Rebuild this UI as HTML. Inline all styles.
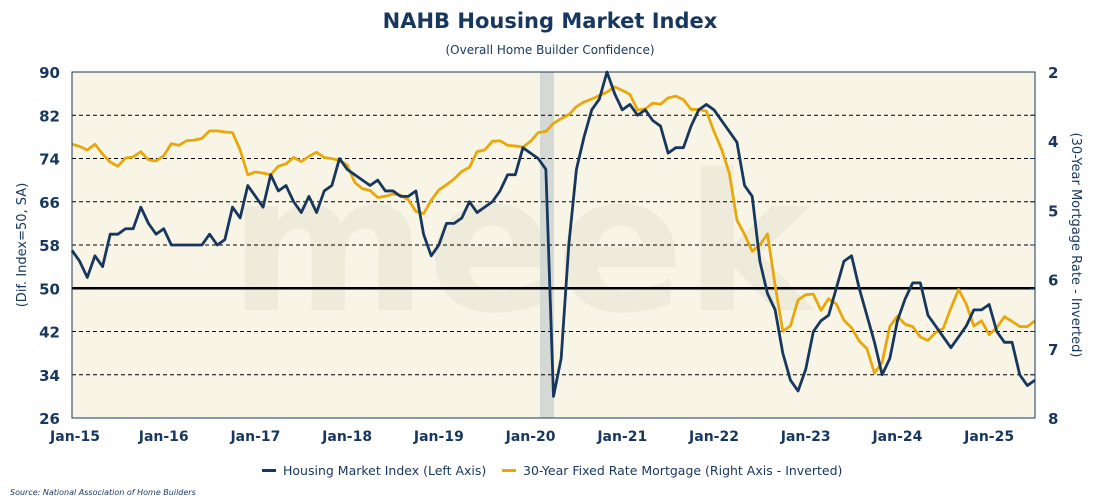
<!DOCTYPE html>
<html><head><meta charset="utf-8"><style>
body{margin:0;background:#fff;font-family:"DejaVu Sans","Liberation Sans",sans-serif;}
svg text{font-family:"DejaVu Sans","Liberation Sans",sans-serif;}
</style></head><body>
<svg id="chart" width="1100" height="500">
<text x="550" y="28" text-anchor="middle" font-size="21" font-weight="bold" fill="#17375e">NAHB Housing Market Index</text>
<text x="550" y="54" text-anchor="middle" font-size="12" fill="#17375e">(Overall Home Builder Confidence)</text>
<rect x="72" y="72" width="963" height="346" fill="#f8f5e6"/>
<text x="520" y="310" text-anchor="middle" font-size="190" font-weight="bold" fill="#efebdb">meek</text>
<rect x="540" y="72" width="14" height="346" fill="#cfd6d4" opacity="0.9"/>
<g id="grid"></g>
<g id="series"></g>
<rect x="72" y="72" width="963" height="346" fill="none" stroke="#17375e" stroke-width="1"/>
<g id="axes"></g>
<text transform="translate(26,245) rotate(-90)" text-anchor="middle" font-size="13" fill="#17375e">(Dif. Index=50, SA)</text>
<text transform="translate(1072,245) rotate(90)" text-anchor="middle" font-size="13" fill="#17375e">(30-Year Mortgage Rate - Inverted)</text>
<g>
<rect x="262" y="469" width="14" height="3" fill="#17375e"/>
<text x="283" y="475" font-size="12.5" fill="#17375e">Housing Market Index (Left Axis)</text>
<rect x="502" y="469" width="14" height="3" fill="#e8a80c"/>
<text x="523" y="475" font-size="12.5" fill="#17375e">30-Year Fixed Rate Mortgage (Right Axis - Inverted)</text>
</g>
<text x="10" y="495" font-size="8" font-style="italic" fill="#17375e">Source: National Association of Home Builders</text>
</svg>
<script>
const hmi=[57,55,52,56,54,60,60,61,61,65,62,60,
61,58,58,58,58,58,60,58,59,65,63,69,
67,65,71,68,69,66,64,67,64,68,69,74,
72,71,70,69,70,68,68,67,67,68,60,56,
58,62,62,63,66,64,65,66,68,71,71,76,
75,74,72,30,37,58,72,78,83,85,90,86,
83,84,82,83,81,80,75,76,76,80,83,84,
83,81,79,77,69,67,55,49,46,38,33,31,
35,42,44,45,50,55,56,50,45,40,34,37,
44,48,51,51,45,43,41,39,41,43,46,46,
47,42,40,40,34,32,33];
const rate=[3.67,3.71,3.77,3.67,3.84,3.98,4.05,3.91,3.89,3.80,3.94,3.96,
3.87,3.66,3.69,3.61,3.60,3.57,3.44,3.44,3.46,3.47,3.77,4.20,
4.15,4.17,4.20,4.05,4.01,3.90,3.97,3.88,3.81,3.90,3.92,3.95,
4.03,4.33,4.44,4.47,4.59,4.57,4.53,4.55,4.63,4.83,4.87,4.64,
4.46,4.37,4.27,4.14,4.07,3.80,3.77,3.62,3.61,3.69,3.70,3.72,
3.62,3.47,3.45,3.31,3.23,3.16,3.02,2.94,2.89,2.83,2.77,2.68,
2.74,2.81,3.08,3.06,2.96,2.98,2.87,2.84,2.90,3.07,3.07,3.10,
3.45,3.76,4.17,4.98,5.23,5.52,5.41,5.22,6.11,6.90,6.81,6.36,
6.27,6.26,6.54,6.34,6.43,6.71,6.84,7.07,7.20,7.62,7.44,6.82,
6.64,6.78,6.82,7.00,7.06,6.92,6.85,6.50,6.18,6.43,6.81,6.72,
6.96,6.84,6.65,6.73,6.82,6.82,6.72];
const leftTicks=[90,82,74,66,58,50,42,34,26];
const rightTickLabels=["2","4","5","6","7","8"];
const rightTickVals=[3,4,5,6,7,8];
const yearLabels=["Jan-15","Jan-16","Jan-17","Jan-18","Jan-19","Jan-20","Jan-21","Jan-22","Jan-23","Jan-24","Jan-25"];

const NS="http://www.w3.org/2000/svg";
const X0=72,X1=1035,Y0=72,Y1=418;
const xS=i=>X0+i*(X1-X0)/126;
const yL=v=>Y0+(90-v)*(Y1-Y0)/64;
const yR=r=>47.5+(r-2)*57.9;
const yRLabel=v=>Y0+(v-3)*(Y1-Y0)/5;
function mk(tag,attrs,parent){const e=document.createElementNS(NS,tag);for(const k in attrs)e.setAttribute(k,attrs[k]);parent.appendChild(e);return e;}
const grid=document.getElementById('grid'),axes=document.getElementById('axes'),ser=document.getElementById('series');
leftTicks.forEach(v=>{
  const y=yL(v);
  if(v<90&&v>26){
    const l=mk('line',{x1:X0,x2:X1,y1:y,y2:y,stroke:'#000','stroke-width':v===50?2.5:1,'stroke-dasharray':v===50?'':'4,3'},grid);
    
    
    const tk=mk('line',{x1:X1-5,x2:X1,y1:y,y2:y,stroke:'#17375e'},axes);
    
    
  }
  const t=mk('text',{x:60,y:y+6,'text-anchor':'end','font-size':15,'font-weight':'bold',fill:'#17375e'},axes);
  t.textContent=v;
  
  
});
rightTickLabels.forEach((s,i)=>{
  const y=i===0?Y0:yRLabel(rightTickVals[i]);
  const t=mk('text',{x:1048,y:y+6,'font-size':15,'font-weight':'bold',fill:'#17375e'},axes);
  t.textContent=s;
  
  
});
yearLabels.forEach((s,i)=>{
  const x=i===0?X0+3:xS(i*12);
  const t=mk('text',{x:x,y:441,'text-anchor':'middle','font-size':14,'font-weight':'bold',fill:'#17375e'},axes);
  t.textContent=s;
  
  
});
const rp=mk('polyline',{points:rate.map((r,i)=>xS(i)+','+yR(r)).join(' '),fill:'none',stroke:'#e8a80c','stroke-width':2.8,'stroke-linejoin':'round'},ser);


const hp=mk('polyline',{points:hmi.map((v,i)=>xS(i)+','+yL(v)).join(' '),fill:'none',stroke:'#17375e','stroke-width':2.8,'stroke-linejoin':'round'},ser);


</script>
</body></html>
